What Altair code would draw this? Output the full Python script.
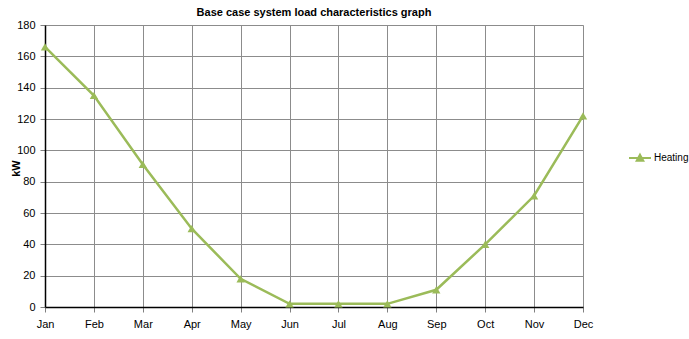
import altair as alt
import pandas as pd

months = ["Jan", "Feb", "Mar", "Apr", "May", "Jun", "Jul", "Aug", "Sep", "Oct", "Nov", "Dec"]
heating = [166, 135, 91, 50, 18, 2, 2, 2, 11, 40, 71, 122]
series = ["Heating"] * len(months)

df = pd.DataFrame({"month": months, "kW": heating, "series": series})

FONT = "Liberation Sans"
GREEN = "#9BBB59"

x = alt.X("month:N", sort=months, title=None,
          scale=alt.Scale(type="point", padding=0),
          axis=alt.Axis(labelAngle=0, labelFontSize=11, labelColor="#000", labelFont=FONT,
                        tickSize=5, tickColor="#808080", labelPadding=6,
                        domainColor="#000", domainWidth=1.5,
                        grid=True, gridColor="#8c8c8c", gridWidth=1))
y = alt.Y("kW:Q", title="kW",
          scale=alt.Scale(domain=[0, 180], nice=False),
          axis=alt.Axis(values=list(range(0, 181, 20)), labelFontSize=11, labelColor="#000",
                        labelFont=FONT, tickSize=5, tickColor="#808080", labelPadding=5,
                        domainColor="#000", domainWidth=1.5,
                        grid=True, gridColor="#8c8c8c", gridWidth=1,
                        titleFont=FONT, titleFontSize=11, titleFontWeight="bold",
                        titleColor="#000", titleX=-24, titleY=143, titleAngle=270,
                        titleAlign="center", titleBaseline="bottom"))
color = alt.Color("series:N", scale=alt.Scale(domain=["Heating"], range=[GREEN]),
                  legend=alt.Legend(title=None, orient="none", legendX=583, legendY=121,
                                    symbolType="M-1,0H1M0,-0.3L0.3,0.25H-0.3Z",
                                    symbolSize=484, symbolStrokeWidth=2,
                                    symbolFillColor=GREEN, symbolStrokeColor=GREEN,
                                    labelFont=FONT, labelFontSize=10, labelColor="#000",
                                    labelOffset=2, padding=0))

base = alt.Chart(df)
line = base.mark_line(strokeWidth=2.5).encode(x=x, y=y, color=color)
pts = base.mark_point(shape="triangle-up", filled=True, size=70, opacity=1).encode(
    x=x, y=y, color=alt.Color("series:N", scale=alt.Scale(domain=["Heating"], range=[GREEN]), legend=None))

chart = alt.layer(line, pts).properties(
    width=538, height=282,
    title=alt.TitleParams("Base case system load characteristics graph", font=FONT,
                          fontSize=11, fontWeight="bold", color="#000", anchor="middle",
                          offset=1),
    autosize=alt.AutoSizeParams(type="none"),
    padding={"left": 45, "top": 25, "right": 106, "bottom": 32},
).configure_view(stroke="#808080", strokeWidth=1).configure(background="white")

chart.save("out.html", embed_options={"renderer": "svg", "actions": False})
